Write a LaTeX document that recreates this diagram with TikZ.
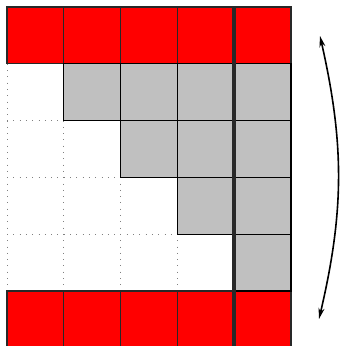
\documentclass[tikz,border=0pt]{standalone}
\usetikzlibrary{arrows.meta}
\definecolor{cellgray}{RGB}{192,192,192}
\definecolor{edgegray}{RGB}{40,40,40}
\tikzset{
  redcell/.style={draw=edgegray, fill=red, line width=1.2pt, minimum size=56.8pt, inner sep=0pt, outer sep=0pt},
  graycell/.style={draw=black, fill=cellgray, line width=1.2pt, minimum size=56.8pt, inner sep=0pt, outer sep=0pt},
  dotgrid/.style={gray, line width=0.9pt, dash pattern=on 0.9pt off 5.4pt},
  divider/.style={line width=3.5pt, draw=edgegray},
  span/.style={line width=1.6pt, {Stealth[length=11pt,width=6pt]}-{Stealth[length=11pt,width=6pt]}}
}
\begin{document}
\begin{tikzpicture}[x=1pt,y=-1pt]
\useasboundingbox (0,0) rectangle (340,346);
\clip (0,0) rectangle (340,346);
\def\s{56.8}
% dotted background grid
\foreach \i in {0,...,4} {
  \draw[dotgrid] ({7+\i*\s},{7+\s}) -- ({7+\i*\s},{7+5*\s});
}
\foreach \j in {1,...,5} {
  \draw[dotgrid] (7,{7+\j*\s}) -- ({7+4*\s},{7+\j*\s});
}
% red rows
\foreach \c in {0,...,4} {
  \node[redcell] (c-0-\c) at ({7+(\c+0.5)*\s},{7+0.5*\s}) {};
  \node[redcell] (c-5-\c) at ({7+(\c+0.5)*\s},{7+5.5*\s}) {};
}
% gray staircase
\foreach \r in {1,...,4} {
  \foreach \c in {\r,...,4} {
    \node[graycell] (c-\r-\c) at ({7+(\c+0.5)*\s},{7+(\r+0.5)*\s}) {};
  }
}
% divider
\draw[divider] (c-0-4.north west) -- (c-5-4.south west);
% span arrow
\coordinate (atop) at (320,36);
\coordinate (abot) at (319,319);
\draw[span] (atop) to[bend left=13] (abot);
\end{tikzpicture}
\end{document}
